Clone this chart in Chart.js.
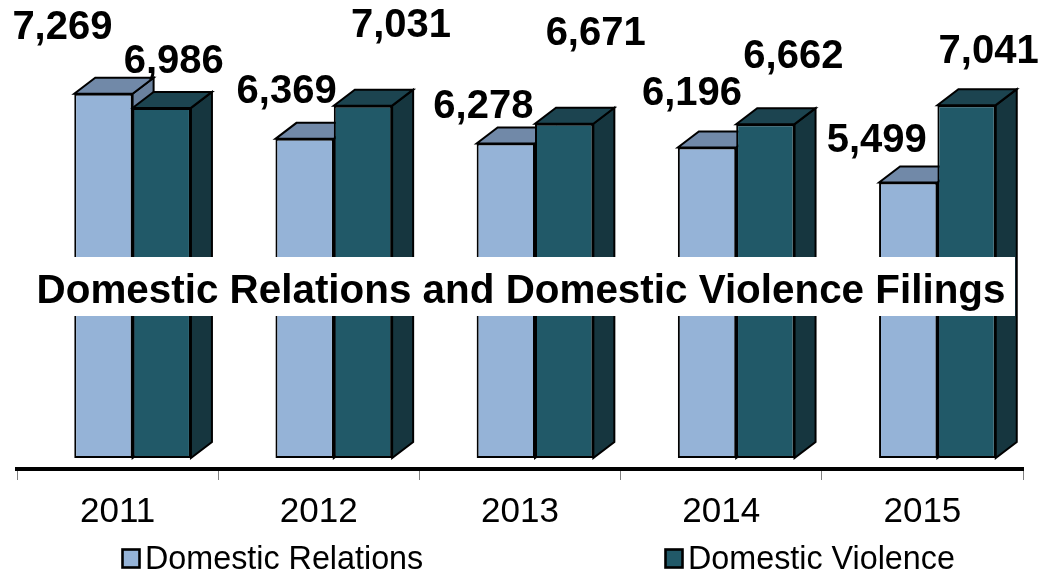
<!DOCTYPE html>
<html><head><meta charset="utf-8">
<script src="https://cdn.jsdelivr.net/npm/chart.js@4"></script>
<style>html,body{margin:0;padding:0;background:#fff;overflow:hidden}canvas{display:block}</style>
</head><body>
<canvas id="c" width="1042" height="579" style="width:1042px;height:579px"></canvas>
<script>
const years = ['2011', '2012', '2013', '2014', '2015'];
const domesticRelations = [7269, 6369, 6278, 6196, 5499];
const domesticViolence = [6986, 7031, 6671, 6662, 7041];
const seriesNames = ['Domestic Relations', 'Domestic Violence'];
const chartTitle = 'Domestic Relations and Domestic Violence Filings';

const FONT = '"Liberation Sans", Arial, Helvetica, sans-serif';

const bars3d = {
  id: 'bars3d',
  afterDatasetsUpdate(chart, args, opts) {
    chart.data.datasets.forEach((ds, di) => {
      chart.getDatasetMeta(di).data.forEach(el => { el.x += opts.shift; });
    });
  },
  beforeDatasetsDraw(chart, args, opts) {
    const ctx = chart.ctx;
    ctx.save();
    ctx.lineWidth = 2;
    ctx.strokeStyle = '#000';
    ctx.lineJoin = 'miter';
    chart.data.datasets.forEach((ds, di) => {
      const st = opts.faces[di];
      chart.getDatasetMeta(di).data.forEach(el => {
        const L = el.x - el.width / 2, R = el.x + el.width / 2, T = el.y, B = el.base;
        const dx = opts.dx, dy = opts.dy;
        ctx.beginPath();
        ctx.moveTo(R, T); ctx.lineTo(R + dx, T + dy); ctx.lineTo(R + dx, B + dy); ctx.lineTo(R, B); ctx.closePath();
        ctx.fillStyle = st.side; ctx.fill(); ctx.stroke();
        ctx.beginPath();
        ctx.moveTo(L, T); ctx.lineTo(R, T); ctx.lineTo(R + dx, T + dy); ctx.lineTo(L + dx, T + dy); ctx.closePath();
        ctx.fillStyle = st.top; ctx.fill(); ctx.stroke();
      });
    });
    ctx.restore();
  },
  afterDatasetsDraw(chart, args, opts) {
    const ctx = chart.ctx;
    ctx.save();
    ctx.fillStyle = '#000';
    ctx.font = 'bold 40px ' + FONT;
    ctx.textAlign = 'center';
    ctx.textBaseline = 'alphabetic';
    chart.data.datasets.forEach((ds, di) => {
      const meta = chart.getDatasetMeta(di);
      meta.data.forEach((el, i) => {
        const off = opts.labelOffsets[di][i];
        ctx.fillText(ds.data[i].toLocaleString('en-US'), el.x + off[0], el.y + off[1] + 14.3);
      });
    });
    // title box
    ctx.fillStyle = '#fff';
    ctx.fillRect(27, 257, 988, 59);
    ctx.fillStyle = '#000';
    ctx.font = 'bold 40.4px ' + FONT;
    ctx.fillText(chartTitle, 521, 303);
    ctx.restore();
  },
  afterDraw(chart, args, opts) {
    const ctx = chart.ctx;
    ctx.save();
    ctx.font = '32.3px ' + FONT;
    ctx.textBaseline = 'alphabetic';
    ctx.textAlign = 'left';
    const pos = [[122, 145], [665, 688]];
    chart.data.datasets.forEach((ds, di) => {
      const [bx, tx] = pos[di];
      ctx.fillStyle = ds.backgroundColor;
      ctx.fillRect(bx, 549, 18, 19);
      ctx.lineWidth = 2.6;
      ctx.strokeStyle = '#000';
      ctx.strokeRect(bx + 0.5, 549.5, 17, 18);
      ctx.fillStyle = '#000';
      ctx.fillText(ds.label, tx, 568.5);
    });
    ctx.restore();
  }
};

new Chart(document.getElementById('c'), {
  type: 'bar',
  data: {
    labels: years,
    datasets: [
      { label: seriesNames[0], data: domesticRelations, backgroundColor: '#95b3d7', borderColor: '#000', borderWidth: 2, borderSkipped: false },
      { label: seriesNames[1], data: domesticViolence, backgroundColor: '#215968', borderColor: '#000', borderWidth: 2, borderSkipped: false }
    ]
  },
  options: {
    responsive: false,
    devicePixelRatio: 1,
    animation: false,
    events: [],
    datasets: { bar: { categoryPercentage: 0.58, barPercentage: 1 } },
    layout: { padding: { left: 17, right: 19, top: 7, bottom: 35 } },
    plugins: {
      legend: { display: false },
      tooltip: { enabled: false },
      title: { display: false },
      bars3d: {
        shift: 15, dx: 21, dy: -16,
        faces: [ { top: '#7189a8', side: '#6a819e' }, { top: '#1c4450', side: '#16363f' } ],
        labelOffsets: [
          [[-41, -69], [-18, -50], [-22.5, -40], [-15, -57], [-31.5, -45]],
          [[12, -49], [38, -83], [31.5, -92.6], [28, -70.6], [22, -56.6]]
        ]
      }
    },
    scales: {
      x: {
        offset: true,
        grid: { offset: true, drawOnChartArea: false, tickLength: 11, color: '#808080', lineWidth: 1 },
        border: { display: true, color: '#000', width: 4 },
        ticks: { color: '#000', font: { family: FONT, size: 35 }, padding: 11 }
      },
      y: { display: false, min: -220, max: 9000 }
    }
  },
  plugins: [bars3d]
});
</script>
</body></html>
